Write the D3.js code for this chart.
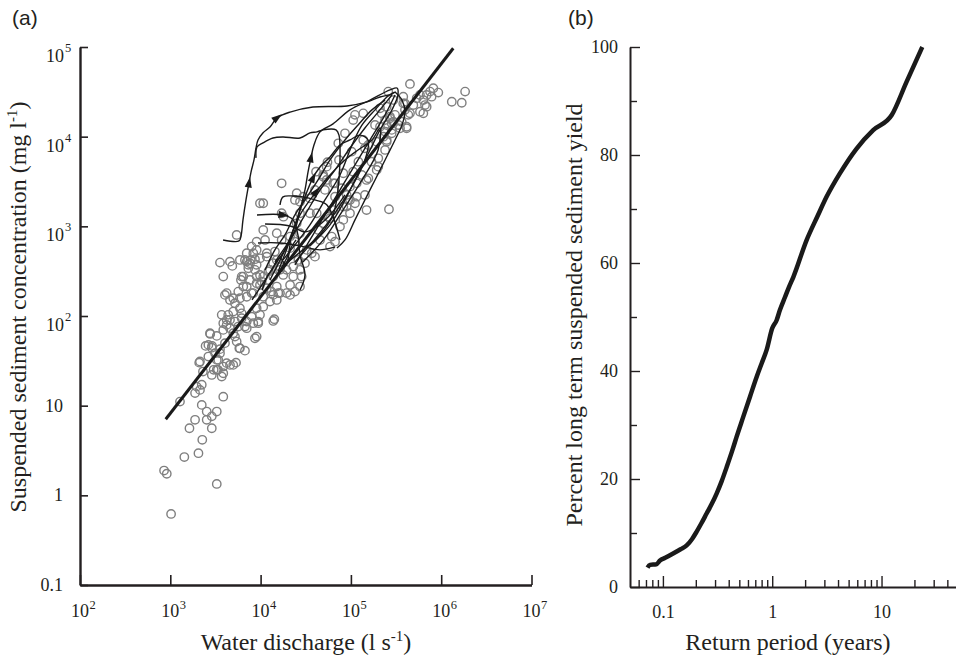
<!DOCTYPE html>
<html>
<head>
<meta charset="utf-8">
<script src="https://cdn.jsdelivr.net/npm/d3@7"></script>
<style>
  body { margin: 0; background: #fff; }
  svg { display: block; font-family: "Liberation Serif", "Times New Roman", serif; }
  .axis path, .axis line { stroke: #231f20; }
  .axis text { font-family: "Liberation Serif", serif; font-size: 18px; fill: #231f20; }
</style>
</head>
<body>
<div id="chart"></div>
<script>
/* Two panels: (a) sediment rating scatter with storm loops, (b) cumulative yield vs return period */

const width = 956, height = 657;

// ---- panel (a) data ----
const decadesQ = [1e2, 1e3, 1e4, 1e5, 1e6, 1e7];
const decadesC = [0.1, 1, 10, 1e2, 1e3, 1e4, 1e5];
const powerLabelsC = [1e2, 1e3, 1e4, 1e5]; // labelled as 10^n, the rest as plain numbers

// rating line end points [discharge, concentration]
const ratingLine = [[890, 7.06], [1.36e6, 96800]];

// grab samples [discharge l/s, concentration mg/l]
const samples = [
  [1280,11.1],[1880,13.8],[2130,15.0],[2230,17.1],[1960,16.3],[2300,24.0],[3860,23.0],[3370,25.1],
  [3860,12.6],[2230,10.2],[2530,8.6],[3270,8.6],[2880,7.6],[2530,6.95],[1880,6.95],[1630,5.6],
  [2880,5.6],[2260,4.16],[2050,2.95],[1430,2.67],[853,1.89],[914,1.74],[3270,1.34],[1020,0.62],
  [2090,30.2],[2460,46.4],[2770,63.1],[3270,60],[2900,46.4],[3550,42.7],[3400,32.4],[3860,27.3],
  [4580,28.5],[5340,30.2],[6710,41.1],[8660,56.5],[9040,58.9],[5810,43.7],[4980,64.3],[4580,90.6],
  [3860,83.2],[4210,79.6],[7020,73.1],[8300,83.2],[9420,83.2],[13800,88.1],[3270,25.1],[3550,38.5],
  [3130,38.5],[5200,58.9],[3550,394],[4860,362],[7020,404],[7770,422],[8660,430],[9040,372],
  [7310,372],[11700,459],[15100,422],[16400,327],[12200,313],[9840,287],[6170,275],[6060,252],
  [7630,252],[9040,232],[10300,242],[7020,213],[4210,180],[4030,172],[5660,187],[4980,158],
  [5900,158],[7020,164],[8300,180],[13200,187],[15700,180],[19400,180],[24000,187],[15100,151],
  [12700,145],[10700,127],[9040,122],[5200,139],[5900,122],[4980,112],[4380,103],[6170,107],
  [4210,90.6],[5200,86.7],[6170,94.4],[7020,86.7],[7960,98.4],[9420,86.7],[9840,103],[14200,92.1],
  [3860,70],[4580,73.1],[5660,76.2],[6710,76.2],[2750,64.3],[2640,47.6],[2880,44.3],[4030,49.8],
  [5430,51.9],[5900,43.7],[2130,31.1],[2640,35.3],[3270,32.4],[4210,29.8],[4980,28.5],[3020,25.1],
  [3710,21.1],[2880,22.0],[17100,3020],[10700,1810],[9840,1810],[25100,2340],[24000,1970],[27300,1880],
  [29700,2140],[35200,2050],[40000,2550],[49400,3740],[53900,3290],[63800,3020],[89700,2240],[97700,1970],
  [82400,1660],[97700,1400],[82400,1180],[75700,993],[61300,768],[66700,675],[58700,594],[17100,1400],
  [17900,1280],[27300,1400],[25100,1080],[10700,912],[15100,838],[17100,705],[21200,768],[24000,675],
  [9040,675],[7960,594],[9040,546],[8300,501],[9840,440],[11700,501],[14400,523],[32400,546],
  [40000,459],[31000,388],[26200,422],[23000,356],[27300,327],[19400,327],[16400,356],[13800,388],
  [12700,327],[6710,422],[7630,388],[7310,341],[8660,327],[6430,275],[9040,275],[10700,275],
  [13800,275],[17800,287],[23000,275],[28500,275],[6430,213],[9840,222],[11700,204],[15100,213],
  [21200,222],[27300,213],[7960,180],[13800,172],[16400,180],[21200,172],[10700,164],[111000,17500],
  [137000,18200],[219000,18200],[271000,16700],[308000,17500],[397000,23500],[432000,17500],[582000,19000],[690000,21600],
  [414000,12900],[335000,13500],[283000,14100],[239000,15300],[210000,12900],[185000,13500],[239000,11400],[283000,10900],
  [86000,10900],[72500,8430],[137000,9190],[156000,8070],[193000,8790],[249000,8790],[239000,7110],[201000,5740],
  [169000,5260],[121000,5260],[53900,4630],[49400,3580],[82400,3910],[106000,4070],[132000,3740],[193000,4260],
  [156000,3430],[116000,3020],[97700,2770],[66700,3020],[51600,2550],[79100,2660],[66700,2140],[93500,1970],
  [116000,2140],[143000,2240],[89700,1660],[111000,1810],[149000,1520],[264000,1550],[63800,1520],[41800,1400],
  [49400,1080],[58700,1230],[451000,38700],[1840000,31800],[1310000,24500],[1690000,23900],[929000,31000],[818000,34700],
  [752000,31800],[690000,29200],[783000,27900],[634000,25600],[582000,29200],[662000,22500],[535000,26800],[491000,22500],
  [451000,18200],[380000,27900],[380000,23500],[397000,19900],[365000,14700],[414000,12400],[350000,12400],[295000,14700],
  [271000,16000],[249000,13500],[283000,11900],[229000,10000],[249000,9190],[259000,31800],[634000,18200],[201000,4630],
  [149000,3290],[5430,802],[210000,20700],[41100,4070],[55000,5190],[73800,5500],[106000,15300],[143000,7430],
  [102000,6810],[27300,838],[11200,705],[7020,501],[5900,422],[4580,404],[3860,275],[4580,151],
  [3710,103],[21200,571],[36800,501],[45500,705],[43600,912],[56200,1280],[35200,1400],[295000,25600],
  [249000,21600]
];

// storm hysteresis loops, each a run of [discharge, concentration]
const loopA = [[3840,705],[5770,687],[6070,781],[6380,1180],[6890,1970],[7440,3050],[7830,4030],[8450,5500],
  [8900,7480],[9360,9190],[10600,11000],[12700,12800],[15200,16200],[21200,18800],[38000,21400],[90600,22000],
  [151000,24400],[210000,27700],[285000,29900],[308000,31500],[258000,28400],[185000,19900],[133000,13500],
  [103000,8070],[75700,3740],[51600,1970],[35200,1040],[24000,621],[17700,422]];
const loopB = [[8900,5800],[9120,7670],[10600,8510],[13700,9670],[17700,9930],[27300,9670],[35200,11000],
  [42200,11300],[49100,11900],[68400,11900],[73800,10400],[75700,5500],[71900,2550],[63400,1340],[45500,802],
  [29400,546],[20100,401]];
const loopC = [[18600,546],[24000,912],[27300,1520],[31000,2550],[33500,4030],[36100,5800],[39000,8070],
  [45500,11300],[63400,13900],[97700,19900],[163000,25600],[271000,33200],[324000,34900],[332000,29200],
  [285000,19900],[210000,11900],[163000,7110],[126000,4260],[86000,1970],[58700,1040],[35200,605]];
const loopD = [[15600,311],[21200,705],[27300,1520],[38000,3470],[45500,4590],[58700,5940],[75700,8070],
  [97700,9190],[126000,10400],[155000,9190],[143000,5500],[97700,2550],[58700,1180],[35200,621],[24000,401]];
const loopE = [[12700,252],[18600,546],[27300,1340],[41100,2420],[58700,3740],[86000,5500],[120000,7110],
  [171000,9190],[210000,12500],[200000,7110],[133000,3290],[81700,1520],[51600,743],[29400,401]];
const loopF = [[9120,1340],[17700,1340],[22900,1180],[25900,802],[27300,480],[31000,287],[27300,195]];
const loopG = [[11200,1060],[21200,1010],[31000,867],[40000,960],[58700,1340],[86000,2240]];
const loopH = [[9360,653],[16400,653],[27300,605],[45500,546],[66700,589]];
const loopI = [[16400,1730],[17700,2130],[22900,2180],[29400,2130],[40000,1970],[54300,1730],[75700,705]];
const loopJ = [[308000,31500],[368000,25600],[397000,18800],[368000,13500],[308000,9190],[239000,5500],
  [185000,3290],[143000,1970],[111000,1180],[86000,705],[70100,574]];
const loopK = [[8040,151],[11200,252],[14400,372],[18600,546],[21200,705],[20100,480],[16400,327],[12700,222]];
const loopL = [[10400,195],[12100,287],[13400,327],[14800,401],[16400,445],[19100,372],[21200,546],[24700,705]];
const loopM = [[14400,401],[21200,705],[31000,1340],[45500,2550],[66700,4260],[97700,7480],[143000,12500],
  [210000,19900],[285000,29200]];
const loopN = [[24000,372],[35200,705],[51600,1340],[75700,2550],[111000,4840],[163000,9190],[239000,17500],
  [308000,29200]];
const loopO = [[11200,327],[14400,546],[18600,802],[24000,1340],[31000,1970],[43300,3290],[58700,5500],
  [86000,9190],[120000,13500],[171000,19900],[239000,25600]];
const loops = [loopA, loopB, loopC, loopD, loopE, loopF, loopG, loopH, loopI, loopJ, loopK, loopL, loopM, loopN, loopO];

// arrowheads: which loop, which vertex
const arrows = [[loopA, 5], [loopA, 12], [loopC, 5], [loopD, 3], [loopE, 3], [loopF, 1]];

// ---- panel (b) data ----
const returnPeriod = [0.0723, 0.076, 0.087, 0.094, 0.105, 0.124, 0.145, 0.165, 0.185, 0.203, 0.225, 0.251,
  0.28, 0.31, 0.345, 0.383, 0.43, 0.472, 0.543, 0.625, 0.72, 0.80, 0.889, 1.0, 1.097, 1.176, 1.31, 1.42,
  1.56, 2.06, 2.6, 3.15, 4.16, 5.92, 8.39, 12.4, 16.9, 23.6];
const percentYield = [3.6, 4.1, 4.2, 4.9, 5.4, 6.2, 7.0, 7.7, 8.9, 10.2, 11.8, 13.6,
  15.4, 17.3, 19.6, 22.2, 25.2, 27.8, 31.5, 35.2, 38.9, 41.4, 43.9, 47.9, 49.4, 51.3, 53.7, 55.5,
  57.4, 64.2, 68.7, 72.3, 76.6, 81.2, 84.6, 87.4, 93.5, 100];
const majorT = [0.1, 1, 10];
const minorT = [0.06, 0.07, 0.08, 0.09, 0.2, 0.3, 0.4, 0.5, 0.6, 0.7, 0.8, 0.9,
  2, 3, 4, 5, 6, 7, 8, 9, 20, 30, 40];
const majorP = [0, 20, 40, 60, 80, 100];
const minorP = [10, 30, 50, 70, 90];

const ink = "#231f20";

const svg = d3.select("#chart")
  .append("svg")
  .attr("width", width)
  .attr("height", height)
  .attr("viewBox", [0, 0, width, height]);

// ================= panel (a) =================
const xA = d3.scaleLog().domain([1e2, 1e7]).range([80, 531.5]);
const yA = d3.scaleLog().domain([0.1, 1e5]).range([585, 47]);

const gxA = svg.append("g")
  .attr("class", "axis")
  .attr("transform", `translate(0,${yA(0.1)})`)
  .call(d3.axisBottom(xA).tickValues(decadesQ).tickSize(-10).tickSizeOuter(0).tickFormat(""));
gxA.select(".domain").attr("stroke-width", 2.4);
gxA.selectAll(".tick line").attr("stroke-width", 1.6);

const gyA = svg.append("g")
  .attr("class", "axis")
  .attr("transform", `translate(${xA(1e2)},0)`)
  .call(d3.axisLeft(yA).tickValues(decadesC).tickSize(-8).tickSizeOuter(0).tickFormat(""));
gyA.select(".domain").attr("stroke-width", 2.4);
gyA.selectAll(".tick line").attr("stroke-width", 1.6);

// x tick labels: "10" centred on the tick, exponent hanging to the right
const xLab = svg.append("g").attr("fill", ink);
decadesQ.forEach(v => {
  const e = Math.round(Math.log10(v));
  xLab.append("text").attr("x", xA(v)).attr("y", 617)
    .attr("text-anchor", "middle").attr("font-size", 18).text("10");
  xLab.append("text").attr("x", xA(v) + 9.5).attr("y", 609)
    .attr("font-size", 12.5).text(e);
});

// y tick labels
const yLab = svg.append("g").attr("fill", ink);
decadesC.forEach(v => {
  if (powerLabelsC.includes(v)) {
    const e = Math.round(Math.log10(v));
    yLab.append("text").attr("x", 64).attr("y", yA(v) + 15)
      .attr("text-anchor", "end").attr("font-size", 18).text("10");
    yLab.append("text").attr("x", 65).attr("y", yA(v) + 5)
      .attr("font-size", 12.5).text(e);
  } else {
    yLab.append("text").attr("x", 63).attr("y", yA(v) + 6)
      .attr("text-anchor", "end").attr("font-size", 18).text(v === 0.1 ? "0.1" : v);
  }
});

// scatter of samples
svg.append("g")
  .selectAll("circle")
  .data(samples)
  .join("circle")
  .attr("cx", d => xA(d[0]))
  .attr("cy", d => yA(d[1]))
  .attr("r", 4.2)
  .attr("fill", "none")
  .attr("stroke", "#7f7f7f")
  .attr("stroke-width", 1.4);

// hysteresis loops
const loopLine = d3.line().x(d => xA(d[0])).y(d => yA(d[1])).curve(d3.curveCatmullRom.alpha(0.5));
svg.append("g")
  .selectAll("path")
  .data(loops)
  .join("path")
  .attr("d", loopLine)
  .attr("fill", "none")
  .attr("stroke", "#1a1a1a")
  .attr("stroke-width", 1.4)
  .attr("stroke-linejoin", "round");

// arrowheads, turned along the loop
svg.append("g")
  .selectAll("path")
  .data(arrows)
  .join("path")
  .attr("d", "M6,0L-4.5,-3.6L-4.5,3.6Z")
  .attr("fill", "#1a1a1a")
  .attr("transform", ([loop, i]) => {
    const a = loop[i - 1], b = loop[i + 1];
    const ang = Math.atan2(yA(b[1]) - yA(a[1]), xA(b[0]) - xA(a[0])) * 180 / Math.PI;
    return `translate(${xA(loop[i][0])},${yA(loop[i][1])}) rotate(${ang})`;
  });

// rating line
svg.append("path")
  .datum(ratingLine)
  .attr("d", d3.line().x(d => xA(d[0])).y(d => yA(d[1])))
  .attr("stroke", "#1a1a1a")
  .attr("stroke-width", 3)
  .attr("fill", "none");

// axis titles (a)
const titleX = svg.append("text")
  .attr("x", 306).attr("y", 650)
  .attr("text-anchor", "middle").attr("font-size", 24).attr("fill", ink);
titleX.append("tspan").text("Water discharge (l s");
titleX.append("tspan").attr("dy", -9).attr("font-size", 15).text("-1");
titleX.append("tspan").attr("dy", 9).text(")");

const titleY = svg.append("text")
  .attr("transform", "translate(26,307) rotate(-90)")
  .attr("text-anchor", "middle").attr("font-size", 24).attr("fill", ink);
titleY.append("tspan").text("Suspended sediment concentration (mg l");
titleY.append("tspan").attr("dy", -9).attr("font-size", 15).text("-1");
titleY.append("tspan").attr("dy", 9).text(")");

svg.append("text")
  .attr("x", 12).attr("y", 25)
  .attr("font-family", "'Liberation Sans', Arial, sans-serif")
  .attr("font-size", 21).attr("fill", ink)
  .text("(a)");

// ================= panel (b) =================
const xB = d3.scaleLog().domain([0.05, 48]).range([630, 956]);
const yB = d3.scaleLinear().domain([0, 100]).range([587, 47]);

const gxMinor = svg.append("g")
  .attr("class", "axis")
  .attr("transform", `translate(0,${yB(0)})`)
  .call(d3.axisBottom(xB).tickValues(minorT).tickSize(-7).tickSizeOuter(0).tickFormat(""));
gxMinor.select(".domain").attr("stroke-width", 2);
gxMinor.selectAll(".tick line").attr("stroke-width", 1.4);

const gxB = svg.append("g")
  .attr("class", "axis")
  .attr("transform", `translate(0,${yB(0)})`)
  .call(d3.axisBottom(xB).tickValues(majorT).tickSize(-11).tickSizeOuter(0).tickPadding(18)
    .tickFormat(d => d));
gxB.select(".domain").remove();
gxB.selectAll(".tick line").attr("stroke-width", 1.4);

const gyMinor = svg.append("g")
  .attr("class", "axis")
  .attr("transform", `translate(${xB(0.05)},0)`)
  .call(d3.axisLeft(yB).tickValues(minorP).tickSize(-7).tickSizeOuter(0).tickFormat(""));
gyMinor.select(".domain").attr("stroke-width", 2);
gyMinor.selectAll(".tick line").attr("stroke-width", 1.4);

const gyB = svg.append("g")
  .attr("class", "axis")
  .attr("transform", `translate(${xB(0.05)},0)`)
  .call(d3.axisLeft(yB).tickValues(majorP).tickSize(-10).tickSizeOuter(0).tickPadding(12));
gyB.select(".domain").remove();
gyB.selectAll(".tick line").attr("stroke-width", 1.4);

const yieldCurve = returnPeriod.map((t, i) => [t, percentYield[i]]);
svg.append("path")
  .datum(yieldCurve)
  .attr("d", d3.line().x(d => xB(d[0])).y(d => yB(d[1])).curve(d3.curveMonotoneX))
  .attr("fill", "none")
  .attr("stroke", "#1a1a1a")
  .attr("stroke-width", 4.5)
  .attr("stroke-linejoin", "round");

svg.append("text")
  .attr("x", 788).attr("y", 650)
  .attr("text-anchor", "middle").attr("font-size", 24).attr("fill", ink)
  .text("Return period (years)");

svg.append("text")
  .attr("transform", "translate(582,315) rotate(-90)")
  .attr("text-anchor", "middle").attr("font-size", 24).attr("fill", ink)
  .text("Percent long term suspended sediment yield");

svg.append("text")
  .attr("x", 568).attr("y", 25)
  .attr("font-family", "'Liberation Sans', Arial, sans-serif")
  .attr("font-size", 21).attr("fill", ink)
  .text("(b)");
</script>
</body>
</html>
